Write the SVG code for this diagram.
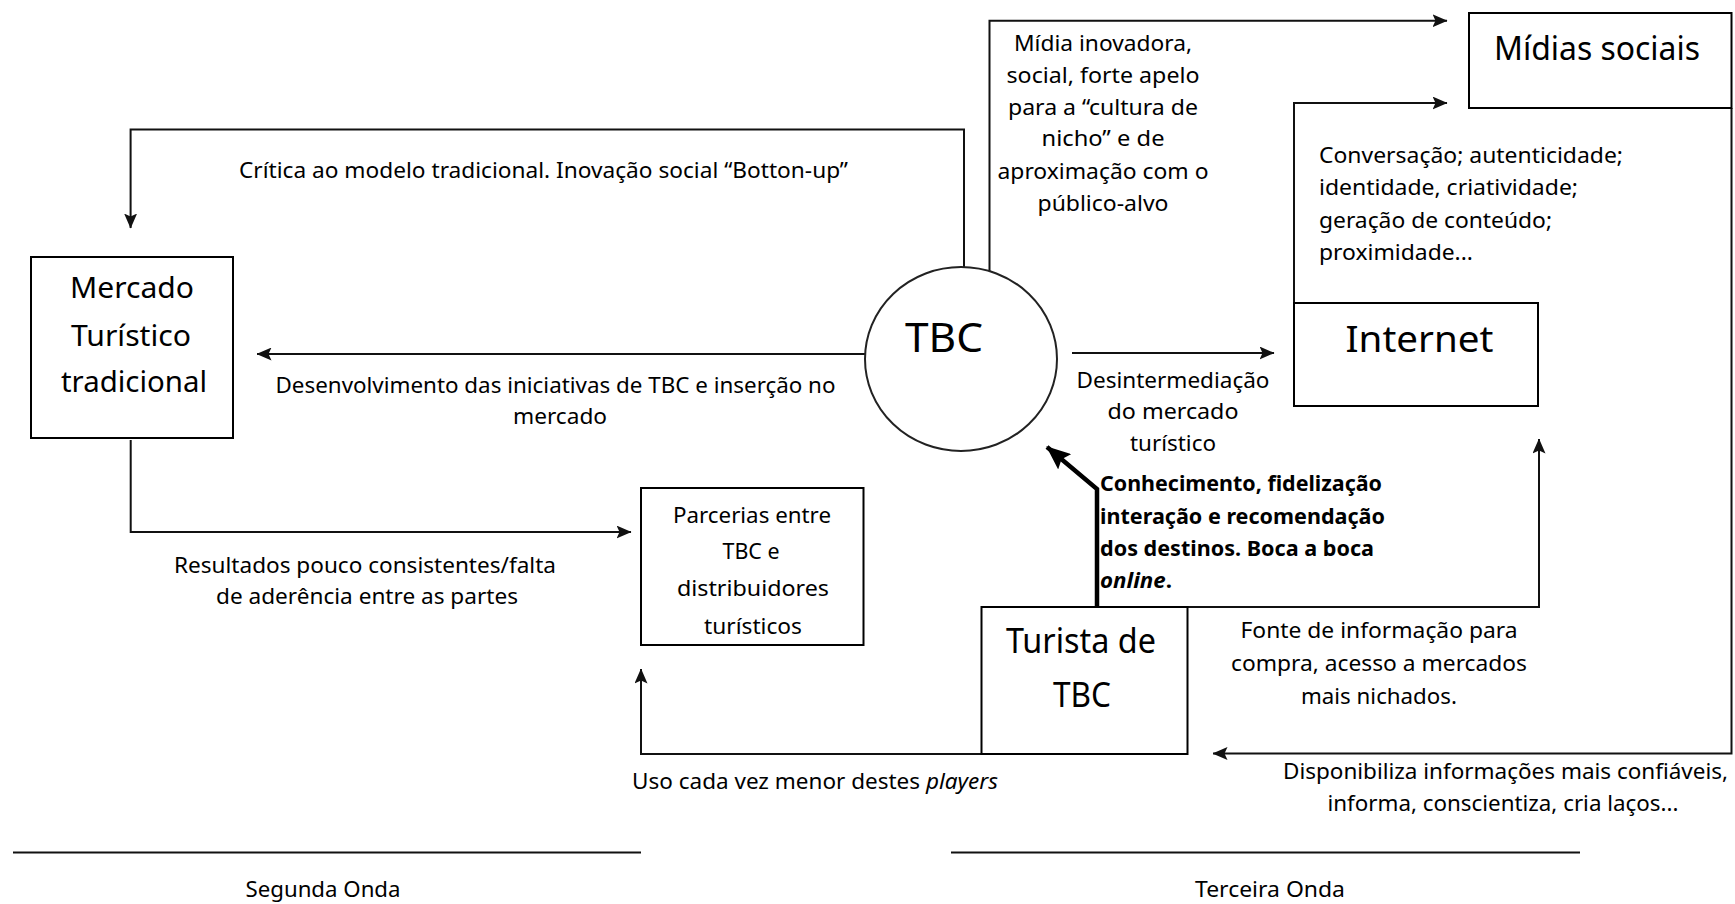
<svg xmlns="http://www.w3.org/2000/svg" width="1735" height="904" viewBox="0 0 1735 904">
  <style>
    .t { font-family: "Noto Sans", "Open Sans", sans-serif; font-size: 21px; fill: #000; }
    .c { text-anchor: middle; }
    .b { font-weight: bold; }
    .lg { font-size: 29px; }
    .xl { font-size: 40px; }
    .box { fill: #fff; stroke: #000; stroke-width: 2; }
    .ln { fill: none; stroke: #111; stroke-width: 2; }
    .thick { fill: none; stroke: #000; stroke-width: 4.5; }
  </style>
  <defs>
    <!-- slightly notched arrowhead used on every thin connector -->
    <marker id="arr" viewBox="0 0 15 13" refX="14.5" refY="6.5" markerWidth="15" markerHeight="13" markerUnits="userSpaceOnUse" orient="auto">
      <path d="M0,0 L15,6.5 L0,13 L3,6.5 z" fill="#111"/>
    </marker>
    <marker id="arrBig" viewBox="0 0 24 20" refX="23" refY="10" markerWidth="24" markerHeight="20" markerUnits="userSpaceOnUse" orient="auto">
      <path d="M0,0 L24,10 L0,20 L4,10 z" fill="#000"/>
    </marker>
  </defs>

  <rect width="1735" height="904" fill="#fff"/>

  <!-- connectors -->
  <g id="connectors">
    <path class="ln" d="M964,268 V129.5 H130.6 V228" marker-end="url(#arr)"/>
    <path class="ln" d="M866,354 H257" marker-end="url(#arr)"/>
    <path class="ln" d="M130.7,440 V532 H631" marker-end="url(#arr)"/>
    <path class="ln" d="M989.5,271 V20.7 H1447" marker-end="url(#arr)"/>
    <path class="ln" d="M1294,303 V103 H1447" marker-end="url(#arr)"/>
    <path class="ln" d="M1072,353 H1274" marker-end="url(#arr)"/>
    <path class="ln" d="M1097,607 H1539 V439" marker-end="url(#arr)"/>
    <path class="ln" d="M1731.5,108 V753.5 H1213" marker-end="url(#arr)"/>
    <path class="ln" d="M981,754 H641 V669" marker-end="url(#arr)"/>
    <path class="thick" d="M1097,607 V489 L1047,447" marker-end="url(#arrBig)"/>
    <!-- edge labels -->
    <text class="t" x="239" y="178" textLength="609" lengthAdjust="spacingAndGlyphs">Crítica ao modelo tradicional. Inovação social “Botton-up”</text>
    <text class="t" x="275.5" y="393" textLength="560" lengthAdjust="spacingAndGlyphs">Desenvolvimento das iniciativas de TBC e inserção no</text>
    <text class="t c" x="560" y="424" textLength="94" lengthAdjust="spacingAndGlyphs">mercado</text>
    <text class="t c" x="1103" y="51" textLength="178" lengthAdjust="spacingAndGlyphs">Mídia inovadora,</text>
    <text class="t c" x="1103" y="83" textLength="193" lengthAdjust="spacingAndGlyphs">social, forte apelo</text>
    <text class="t c" x="1103" y="115" textLength="190" lengthAdjust="spacingAndGlyphs">para a “cultura de</text>
    <text class="t c" x="1103" y="146" textLength="123" lengthAdjust="spacingAndGlyphs">nicho” e de</text>
    <text class="t c" x="1103" y="179" textLength="211" lengthAdjust="spacingAndGlyphs">aproximação com o</text>
    <text class="t c" x="1103" y="211" textLength="131" lengthAdjust="spacingAndGlyphs">público-alvo</text>
    <text class="t" x="1319" y="163" textLength="304" lengthAdjust="spacingAndGlyphs">Conversação; autenticidade;</text>
    <text class="t" x="1319" y="195" textLength="259" lengthAdjust="spacingAndGlyphs">identidade, criatividade;</text>
    <text class="t" x="1319" y="228" textLength="233" lengthAdjust="spacingAndGlyphs">geração de conteúdo;</text>
    <text class="t" x="1319" y="260" textLength="154" lengthAdjust="spacingAndGlyphs">proximidade...</text>
    <text class="t c" x="1173" y="388" textLength="193" lengthAdjust="spacingAndGlyphs">Desintermediação</text>
    <text class="t c" x="1173" y="419" textLength="131" lengthAdjust="spacingAndGlyphs">do mercado</text>
    <text class="t c" x="1173" y="451" textLength="86" lengthAdjust="spacingAndGlyphs">turístico</text>
    <text class="t c" x="365" y="573" textLength="382" lengthAdjust="spacingAndGlyphs">Resultados pouco consistentes/falta</text>
    <text class="t c" x="367" y="604" textLength="302" lengthAdjust="spacingAndGlyphs">de aderência entre as partes</text>
    <text class="t" x="632" y="789" textLength="366" lengthAdjust="spacingAndGlyphs">Uso cada vez menor destes <tspan font-style="italic">players</tspan></text>
    <text class="t b" x="1100" y="491" textLength="282" lengthAdjust="spacingAndGlyphs">Conhecimento, fidelização</text>
    <text class="t b" x="1100" y="524" textLength="285" lengthAdjust="spacingAndGlyphs">interação e recomendação</text>
    <text class="t b" x="1100" y="556" textLength="274" lengthAdjust="spacingAndGlyphs">dos destinos. Boca a boca</text>
    <text class="t b" x="1100" y="588" textLength="72" lengthAdjust="spacingAndGlyphs"><tspan font-style="italic">online</tspan>.</text>
    <text class="t c" x="1379" y="638" textLength="277" lengthAdjust="spacingAndGlyphs">Fonte de informação para</text>
    <text class="t c" x="1379" y="671" textLength="296" lengthAdjust="spacingAndGlyphs">compra, acesso a mercados</text>
    <text class="t c" x="1379" y="704" textLength="156" lengthAdjust="spacingAndGlyphs">mais nichados.</text>
    <text class="t c" x="1505.5" y="779" textLength="445" lengthAdjust="spacingAndGlyphs">Disponibiliza informações mais confiáveis,</text>
    <text class="t c" x="1503" y="811" textLength="351" lengthAdjust="spacingAndGlyphs">informa, conscientiza, cria laços...</text>
  </g>

  <!-- nodes -->
  <g id="mercado">
    <rect class="box" x="31" y="257" width="202" height="181"/>
    <text class="t lg c" x="132" y="298" textLength="124" lengthAdjust="spacingAndGlyphs">Mercado</text>
    <text class="t lg c" x="131" y="346" textLength="120" lengthAdjust="spacingAndGlyphs">Turístico</text>
    <text class="t lg c" x="134" y="392" textLength="146" lengthAdjust="spacingAndGlyphs">tradicional</text>
  </g>

  <g id="tbc">
    <ellipse cx="961" cy="359" rx="96" ry="92" fill="#fff" stroke="#222" stroke-width="2"/>
    <text class="t xl c" x="944" y="352" textLength="78" lengthAdjust="spacingAndGlyphs">TBC</text>
  </g>

  <g id="midias-sociais">
    <rect class="box" x="1469" y="13" width="262.5" height="95"/>
    <text class="t c" style="font-size:32px" x="1597" y="60" textLength="206" lengthAdjust="spacingAndGlyphs">Mídias sociais</text>
  </g>

  <g id="internet">
    <rect class="box" x="1294" y="303" width="244" height="103"/>
    <text class="t c" style="font-size:37px" x="1419.5" y="352" textLength="148" lengthAdjust="spacingAndGlyphs">Internet</text>
  </g>

  <g id="parcerias">
    <rect class="box" x="641" y="488" width="222.5" height="157"/>
    <text class="t c" x="752" y="523" textLength="158" lengthAdjust="spacingAndGlyphs">Parcerias entre</text>
    <text class="t c" x="751" y="559" textLength="57" lengthAdjust="spacingAndGlyphs">TBC e</text>
    <text class="t c" x="753" y="596" textLength="152" lengthAdjust="spacingAndGlyphs">distribuidores</text>
    <text class="t c" x="753" y="634" textLength="98" lengthAdjust="spacingAndGlyphs">turísticos</text>
  </g>

  <g id="turista">
    <rect class="box" x="981.5" y="607" width="206" height="147"/>
    <text class="t c" style="font-size:34px" x="1081" y="653" textLength="150" lengthAdjust="spacingAndGlyphs">Turista de</text>
    <text class="t c" style="font-size:34px" x="1082" y="707" textLength="58" lengthAdjust="spacingAndGlyphs">TBC</text>
  </g>

  <g id="ondas">
    <line class="ln" x1="13" y1="852.5" x2="641" y2="852.5"/>
    <line class="ln" x1="951" y1="852.5" x2="1580" y2="852.5"/>
    <text class="t c" x="323" y="897" textLength="155" lengthAdjust="spacingAndGlyphs">Segunda Onda</text>
    <text class="t c" x="1270" y="897" textLength="150" lengthAdjust="spacingAndGlyphs">Terceira Onda</text>
  </g>
</svg>
